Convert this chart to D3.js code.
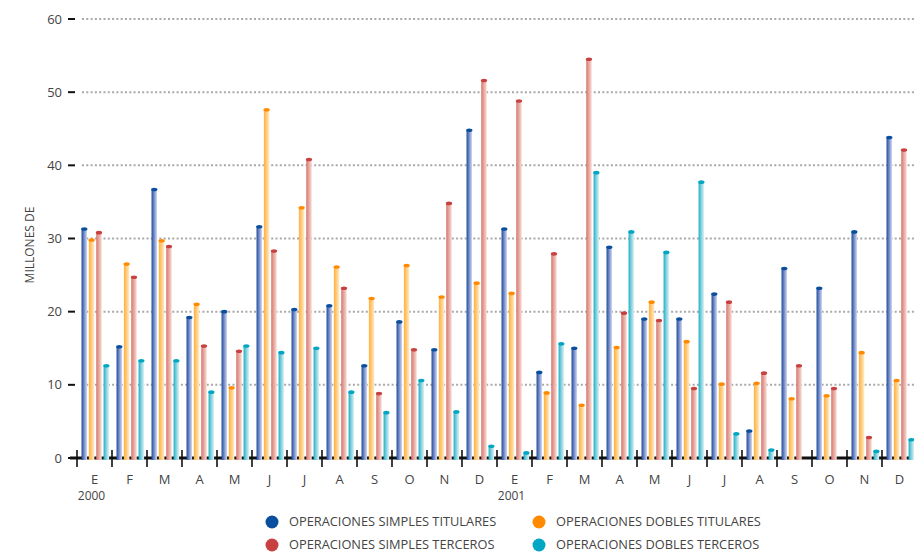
<!DOCTYPE html>
<html>
<head>
<meta charset="utf-8">
<script src="https://cdn.jsdelivr.net/npm/d3@7"></script>
<style>
  html, body { margin: 0; padding: 0; background: #fff; }
  svg { display: block; font-family: "Open Sans", "Noto Sans", sans-serif; }
</style>
</head>
<body>
<svg id="chart" width="914" height="559"></svg>
<script>
// Months (two years, 2000 and 2001)
const meses = ["E","F","M","A","M","J","J","A","S","O","N","D",
               "E","F","M","A","M","J","J","A","S","O","N","D"];
const anios = ["2000", "", "", "", "", "", "", "", "", "", "", "",
               "2001", "", "", "", "", "", "", "", "", "", "", ""];

// Series values (millions)
const simplesTitulares = [31.3, 15.2, 36.7, 19.2, 20.0, 31.6, 20.3, 20.8, 12.6, 18.6, 14.8, 44.8,
                          31.3, 11.7, 15.0, 28.8, 19.0, 19.0, 22.4, 3.7, 25.9, 23.2, 30.9, 43.8];
const doblesTitulares  = [29.8, 26.5, 29.7, 21.0, 9.6, 47.6, 34.2, 26.1, 21.8, 26.3, 22.0, 23.9,
                          22.5, 8.9, 7.2, 15.1, 21.3, 15.9, 10.1, 10.2, 8.1, 8.5, 14.4, 10.6];
const simplesTerceros  = [30.8, 24.7, 28.9, 15.3, 14.6, 28.3, 40.8, 23.2, 8.8, 14.8, 34.8, 51.6,
                          48.8, 27.9, 54.5, 19.8, 18.8, 9.5, 21.3, 11.6, 12.6, 9.5, 2.8, 42.1];
const doblesTerceros   = [12.6, 13.3, 13.3, 9.0, 15.3, 14.4, 15.0, 9.0, 6.2, 10.6, 6.3, 1.6,
                          0.7, 15.6, 39.0, 30.9, 28.1, 37.7, 3.3, 1.1, 0, 0, 0.9, 2.5];

const yTicks = [0, 10, 20, 30, 40, 50, 60];

const seriesNames = ["OPERACIONES SIMPLES TITULARES", "OPERACIONES DOBLES TITULARES",
                     "OPERACIONES SIMPLES TERCEROS", "OPERACIONES DOBLES TERCEROS"];
const seriesValues = [simplesTitulares, doblesTitulares, simplesTerceros, doblesTerceros];

// Cap colour, dark and light gradient stops for each series
const capColors  = ["#0a4f9e", "#ff8a00", "#c8403f", "#00a6c2"];
const darkStops  = ["#1f4c9a", "#ffb03c", "#d4766f", "#20aec6"];
const midStops   = ["#6f88c8", "#ffc978", "#e6a39b", "#7ccfdd"];
const lightStops = ["#d4daf0", "#ffedd0", "#f8ddd6", "#dff3f6"];

const svg = d3.select("#chart");
const defs = svg.append("defs");
seriesNames.forEach((s, i) => {
  const g = defs.append("linearGradient").attr("id", "grad" + i)
    .attr("x1", "0%").attr("x2", "100%").attr("y1", "0%").attr("y2", "0%");
  g.append("stop").attr("offset", "0%").attr("stop-color", darkStops[i]);
  g.append("stop").attr("offset", "45%").attr("stop-color", midStops[i]);
  g.append("stop").attr("offset", "100%").attr("stop-color", lightStops[i]);
});

const x = d3.scaleBand().domain(d3.range(meses.length)).range([77, 917]).padding(0);
const xs = d3.scaleBand().domain(d3.range(4)).range([3.6, 33]).paddingInner(0.25).paddingOuter(0.125);
const y = d3.scaleLinear().domain([0, 60]).range([458, 19]);

// Dotted gridlines
svg.append("g").selectAll("line").data(yTicks.filter(d => d > 0)).join("line")
  .attr("x1", 82).attr("x2", 914)
  .attr("y1", d => y(d)).attr("y2", d => y(d))
  .attr("stroke", "#a8a8a8").attr("stroke-width", 2)
  .attr("stroke-dasharray", "2,2.3");

// Y axis: short dashes and labels
const yAxis = svg.append("g");
yAxis.selectAll("line").data(yTicks).join("line")
  .attr("x1", 68).attr("x2", 75)
  .attr("y1", d => y(d)).attr("y2", d => y(d))
  .attr("stroke", "#111").attr("stroke-width", 2);
yAxis.selectAll("text").data(yTicks).join("text")
  .attr("x", 62).attr("y", d => y(d)).attr("dy", "0.35em")
  .attr("text-anchor", "end").attr("font-size", 13).attr("fill", "#444")
  .text(d => d);

svg.append("text")
  .attr("transform", "translate(34,245) rotate(-90)")
  .attr("text-anchor", "middle").attr("font-size", 12).attr("fill", "#444")
  .text("MILLONES DE");

// Baseline and month separators
svg.append("line").attr("x1", 70).attr("x2", 914)
  .attr("y1", y(0)).attr("y2", y(0))
  .attr("stroke", "#111").attr("stroke-width", 3);
svg.append("g").selectAll("line").data(d3.range(meses.length)).join("line")
  .attr("x1", d => x(d)).attr("x2", d => x(d))
  .attr("y1", y(0) - 8).attr("y2", y(0) + 9)
  .attr("stroke", "#111").attr("stroke-width", 1.6);

// Bars
seriesValues.forEach((vals, si) => {
  const g = svg.append("g");
  g.selectAll("rect").data(vals).join("rect")
    .attr("x", (d, i) => x(i) + xs(si))
    .attr("width", xs.bandwidth())
    .attr("y", d => y(d))
    .attr("height", d => y(0) + 2 - y(d))
    .attr("fill", "url(#grad" + si + ")")
    .attr("display", d => d > 0 ? null : "none");
  g.selectAll("ellipse").data(vals).join("ellipse")
    .attr("cx", (d, i) => x(i) + xs(si) + xs.bandwidth() / 2)
    .attr("cy", d => y(d))
    .attr("rx", xs.bandwidth() / 2 + 0.4).attr("ry", 1.8)
    .attr("fill", capColors[si])
    .attr("display", d => d > 0 ? null : "none");
});

// Month and year labels
svg.append("g").selectAll("text").data(meses).join("text")
  .attr("x", (d, i) => x(i) + x.bandwidth() / 2)
  .attr("y", 484).attr("text-anchor", "middle")
  .attr("font-size", 13).attr("fill", "#444")
  .text(d => d);
svg.append("g").selectAll("text").data(anios).join("text")
  .attr("x", (d, i) => x(i) + x.bandwidth() / 2 - 3)
  .attr("y", 500).attr("text-anchor", "middle")
  .attr("font-size", 12).attr("fill", "#444")
  .text(d => d);

// Legend
const legendPos = [[272, 522], [539, 522], [272, 545], [539, 545]];
const leg = svg.append("g");
seriesNames.forEach((name, si) => {
  const [lx, ly] = legendPos[si];
  leg.append("circle").attr("cx", lx).attr("cy", ly).attr("r", 6.5).attr("fill", capColors[si]);
  leg.append("text").attr("x", lx + 17).attr("y", ly).attr("dy", "0.35em")
    .attr("font-size", 12.8).attr("fill", "#444")
    .text(name);
});
</script>
</body>
</html>
